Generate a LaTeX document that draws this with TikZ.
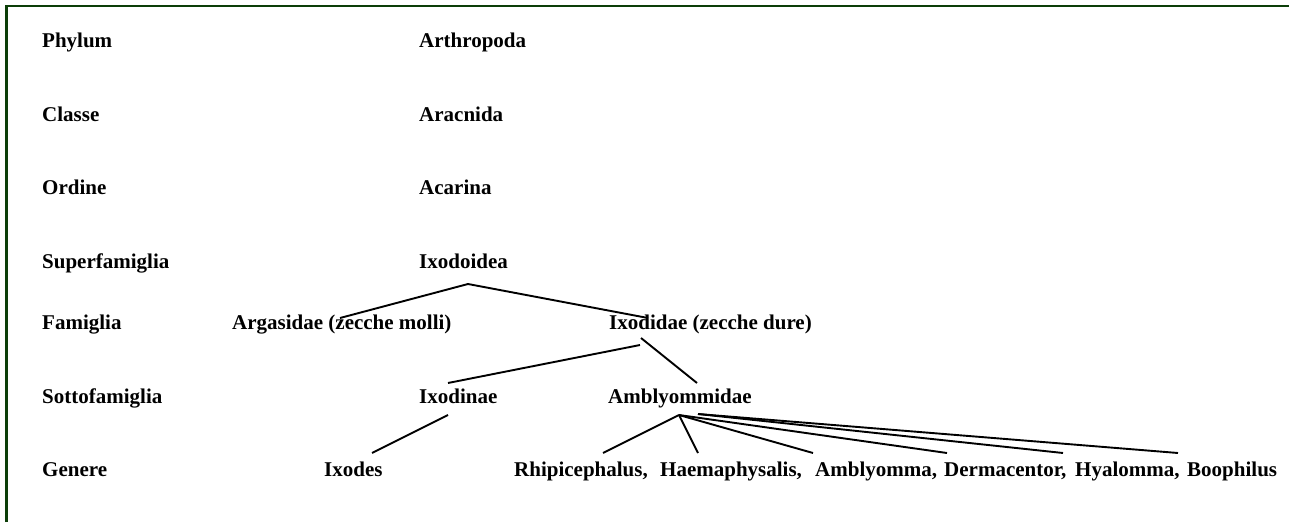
\documentclass[tikz,border=0pt]{standalone}
\usepackage{fontspec}
\setmainfont{Liberation Serif}
\definecolor{framegreen}{RGB}{12,62,8}
\begin{document}
\begin{tikzpicture}[x=1pt,y=-1pt,
  lbl/.style={anchor=base west, inner sep=0pt, font=\fontsize{21}{25}\selectfont\bfseries},
  link/.style={line width=1.9pt, black},
  frameline/.style={line width=2.6pt, framegreen}]
\useasboundingbox (0,0) rectangle (1289,522);
\draw[frameline] (6.5,522) -- (6.5,6) -- (1289,6);
% rank labels
\node[lbl] (phylum) at (42,47) {Phylum};
\node[lbl] (classe) at (42,121) {Classe};
\node[lbl] (ordine) at (42,194) {Ordine};
\node[lbl] (superfam) at (42,268) {Superfamiglia};
\node[lbl] (famiglia) at (42,329) {Famiglia};
\node[lbl] (sottofam) at (42,403) {Sottofamiglia};
\node[lbl] (genere) at (42,476) {Genere};
% taxa
\node[lbl] (arthropoda) at (419,47) {Arthropoda};
\node[lbl] (aracnida) at (419,121) {Aracnida};
\node[lbl] (acarina) at (419,194) {Acarina};
\node[lbl] (ixodoidea) at (419,268) {Ixodoidea};
\node[lbl] (argasidae) at (232,329) {Argasidae (zecche molli)};
\node[lbl] (ixodidae) at (609,329) {Ixodidae (zecche dure)};
\node[lbl] (ixodinae) at (419,403) {Ixodinae};
\node[lbl] (amblyommidae) at (608,403) {Amblyommidae};
\node[lbl] (ixodes) at (324,476) {Ixodes};
\node[lbl] (rhip) at (514,476) {Rhipicephalus,};
\node[lbl] (haem) at (660,476) {Haemaphysalis,};
\node[lbl] (ambl) at (815,476) {Amblyomma,};
\node[lbl] (derm) at (944,476) {Dermacentor,};
\node[lbl] (hyal) at (1075,476) {Hyalomma,};
\node[lbl] (boop) at (1187,476) {Boophilus};
% connector end points
\coordinate (sfApex) at (468,284);
\coordinate (argTop) at (340,318);
\coordinate (ixdTop) at (648,318);
\coordinate (ixdBotL) at (640,345);
\coordinate (ixdBotR) at (641,338);
\coordinate (ixinTop) at (448,383);
\coordinate (amTop) at (697,383);
\coordinate (ixinBot) at (448,415);
\coordinate (ixodesTop) at (372,453);
\coordinate (amApex) at (679,415);
\coordinate (amApexB) at (698,414);
\coordinate (rhipTop) at (603,453);
\coordinate (haemTop) at (698,453);
\coordinate (amblTop) at (813,453);
\coordinate (dermTop) at (947,453);
\coordinate (hyalTop) at (1063,453);
\coordinate (boopTop) at (1178,453);
% connectors
\draw[link] (argTop) -- (sfApex) -- (ixdTop);
\draw[link] (ixdBotL) -- (ixinTop);
\draw[link] (ixdBotR) -- (amTop);
\draw[link] (ixinBot) -- (ixodesTop);
\draw[link] (amApex) -- (rhipTop);
\draw[link] (amApex) -- (haemTop);
\draw[link] (amApex) -- (amblTop);
\draw[link] (amApex) -- (dermTop);
\draw[link] (amApexB) -- (hyalTop);
\draw[link] (amApexB) -- (boopTop);
\end{tikzpicture}
\end{document}
